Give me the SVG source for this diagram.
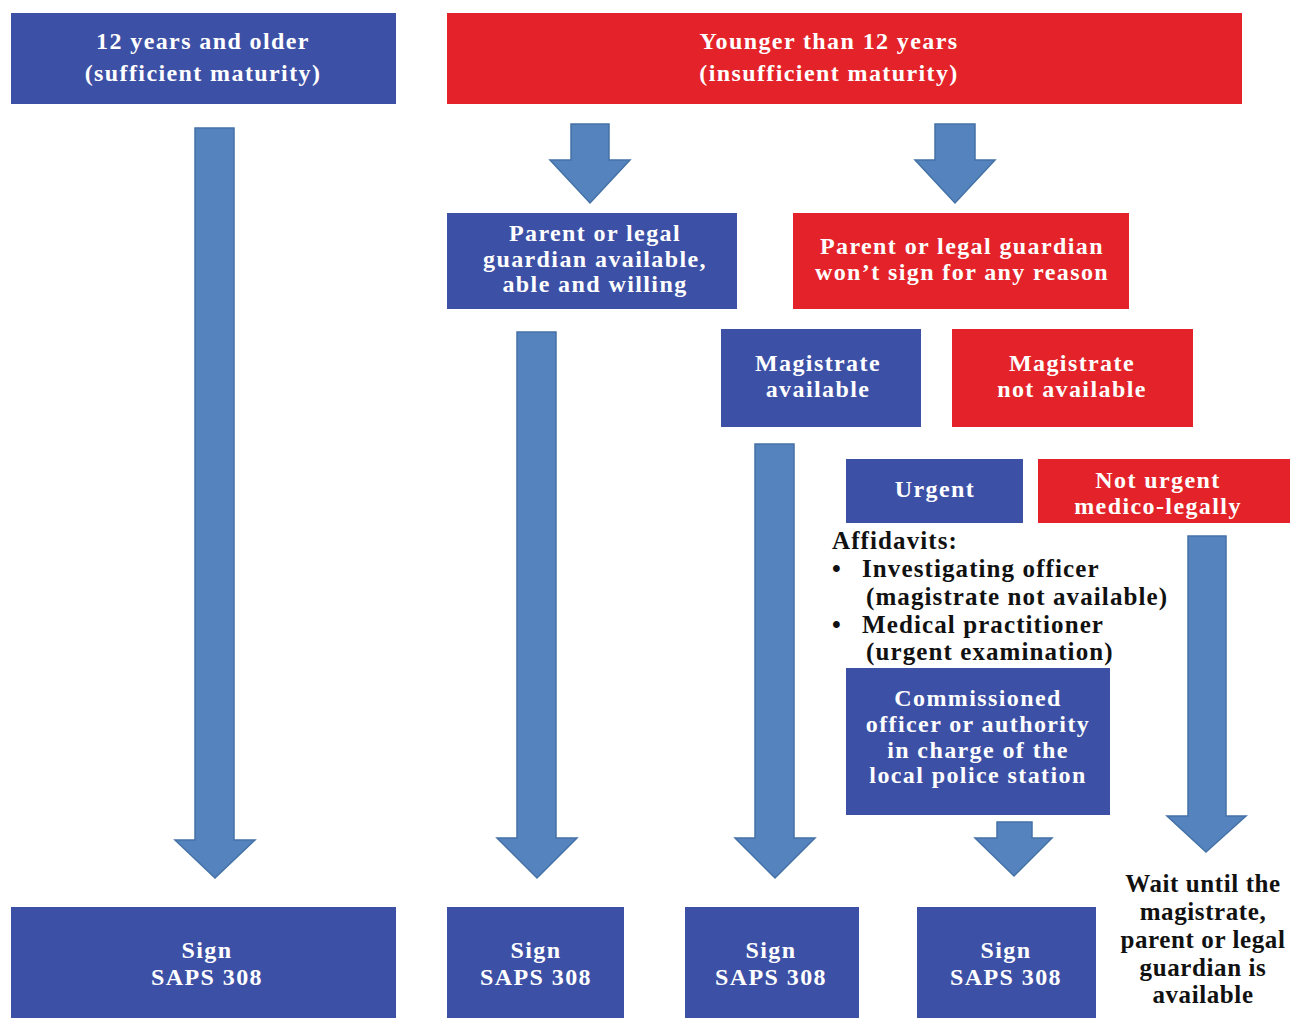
<svg xmlns="http://www.w3.org/2000/svg" width="1290" height="1018" viewBox="0 0 1290 1018">
<style>
.b{fill:#3c50a6}
.r{fill:#e32329}
.ar{fill:#5483be;stroke:#4472a6;stroke-width:1.5}
text{font-family:"Liberation Serif","Times New Roman",serif;font-weight:bold;font-size:24px;letter-spacing:1.4px}
.w{fill:#ffffff;text-anchor:middle}
.k{fill:#111111;font-size:25px;letter-spacing:1.1px}
.kc{fill:#111111;text-anchor:middle;font-size:25px;letter-spacing:0.6px}
</style>
<rect width="1290" height="1018" fill="#ffffff"/>
<g id="connectors">
<polygon class="ar" points="195,128 234,128 234,840 255,840 215,878 175,840 195,840"/>
<polygon class="ar" points="571,124 609,124 609,160 630,160 590,203 550,160 571,160"/>
<polygon class="ar" points="935,124 975,124 975,160 995,160 955,203 915,160 935,160"/>
<polygon class="ar" points="517,332 556,332 556,838 577,838 537,878 497,838 517,838"/>
<polygon class="ar" points="755,444 794,444 794,838 815,838 775,878 735,838 755,838"/>
<polygon class="ar" points="997,822 1032,822 1032,838 1052,838 1014,876 975,838 997,838"/>
<polygon class="ar" points="1188,536 1226,536 1226,816 1246,816 1206,852 1167,816 1188,816"/>
</g>
<g id="n-older">
<rect class="b" x="11" y="13" width="385" height="91"/>
<text class="w" x="203" y="49">12 years and older</text>
<text class="w" x="203" y="81">(sufficient maturity)</text>
</g>
<g id="n-younger">
<rect class="r" x="447" y="13" width="795" height="91"/>
<text class="w" x="829" y="49">Younger than 12 years</text>
<text class="w" x="829" y="81">(insufficient maturity)</text>
</g>
<g id="n-parent-ok">
<rect class="b" x="447" y="213" width="290" height="96"/>
<text class="w" x="595" y="241">Parent or legal</text>
<text class="w" x="595" y="267">guardian available,</text>
<text class="w" x="595" y="292">able and willing</text>
</g>
<g id="n-parent-no">
<rect class="r" x="793" y="213" width="336" height="96"/>
<text class="w" x="962" y="254">Parent or legal guardian</text>
<text class="w" x="962" y="280">won’t sign for any reason</text>
</g>
<g id="n-mag-yes">
<rect class="b" x="721" y="329" width="200" height="98"/>
<text class="w" x="818" y="371">Magistrate</text>
<text class="w" x="818" y="397">available</text>
</g>
<g id="n-mag-no">
<rect class="r" x="952" y="329" width="241" height="98"/>
<text class="w" x="1072" y="371">Magistrate</text>
<text class="w" x="1072" y="397">not available</text>
</g>
<g id="n-urgent">
<rect class="b" x="846" y="459" width="177" height="64"/>
<text class="w" x="935" y="497">Urgent</text>
</g>
<g id="n-noturgent">
<rect class="r" x="1038" y="459" width="252" height="64"/>
<text class="w" x="1158" y="488">Not urgent</text>
<text class="w" x="1158" y="514">medico-legally</text>
</g>
<g id="n-affidavits">
<text class="k" x="832" y="549">Affidavits:</text>
<text class="k" x="832" y="577">•</text>
<text class="k" x="862" y="577">Investigating officer</text>
<text class="k" x="866" y="605">(magistrate not available)</text>
<text class="k" x="832" y="633">•</text>
<text class="k" x="862" y="633">Medical practitioner</text>
<text class="k" x="866" y="660">(urgent examination)</text>
</g>
<g id="n-commissioned">
<rect class="b" x="846" y="668" width="264" height="147"/>
<text class="w" x="978" y="706">Commissioned</text>
<text class="w" x="978" y="732">officer or authority</text>
<text class="w" x="978" y="758">in charge of the</text>
<text class="w" x="978" y="783">local police station</text>
</g>
<g id="n-wait">
<text class="kc" x="1203" y="892">Wait until the</text>
<text class="kc" x="1203" y="920">magistrate,</text>
<text class="kc" x="1203" y="948">parent or legal</text>
<text class="kc" x="1203" y="976">guardian is</text>
<text class="kc" x="1203" y="1003">available</text>
</g>
<g id="n-sign1">
<rect class="b" x="11" y="907" width="385" height="111"/>
<text class="w" x="207" y="958">Sign</text>
<text class="w" x="207" y="985">SAPS 308</text>
</g>
<g id="n-sign2">
<rect class="b" x="447" y="907" width="177" height="111"/>
<text class="w" x="536" y="958">Sign</text>
<text class="w" x="536" y="985">SAPS 308</text>
</g>
<g id="n-sign3">
<rect class="b" x="685" y="907" width="174" height="111"/>
<text class="w" x="771" y="958">Sign</text>
<text class="w" x="771" y="985">SAPS 308</text>
</g>
<g id="n-sign4">
<rect class="b" x="917" y="907" width="179" height="111"/>
<text class="w" x="1006" y="958">Sign</text>
<text class="w" x="1006" y="985">SAPS 308</text>
</g>
</svg>
